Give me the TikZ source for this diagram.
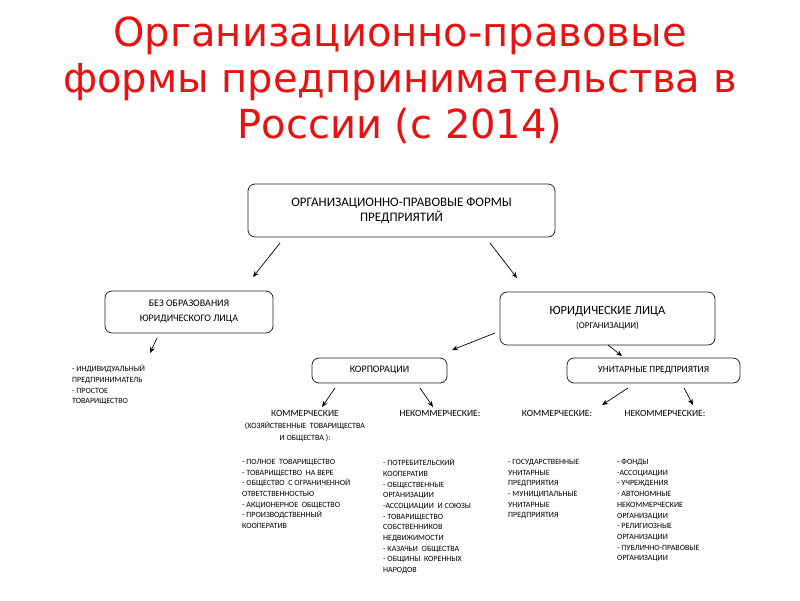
\documentclass[tikz,border=0pt]{standalone}
\usepackage{fontspec}
\setmainfont{Carlito}
\newfontfamily\titlefont{DejaVu Sans}
\usetikzlibrary{arrows.meta}
\definecolor{titlered}{RGB}{232,18,18}
\begin{document}
\begin{tikzpicture}[x=1pt,y=-1pt,
  box/.style={draw=black!85,line width=0.8pt,rounded corners=7pt,inner sep=0pt,align=center},
  arr/.style={-{Stealth[length=6pt,width=5pt]},line width=0.7pt},
  lst/.style={anchor=north west,inner sep=0pt,align=left,font=\fontsize{8}{10.7}\selectfont},
  lab/.style={inner sep=0pt,align=center}]
\useasboundingbox (0,0) rectangle (800,600);
\fill[white] (0,0) rectangle (800,600);
% title
\node[lab,anchor=north,text=titlered,font=\titlefont\fontsize{40}{46}\selectfont] (title) at (400,17)
  {Организационно-правовые\\формы предпринимательства в\\России (с 2014)};
% boxes
\node[box,minimum width=307,minimum height=53,font=\fontsize{13}{15}\selectfont] (top) at (401.5,210.5)
  {ОРГАНИЗАЦИОННО-ПРАВОВЫЕ ФОРМЫ\\ПРЕДПРИЯТИЙ};
\node[box,minimum width=168,minimum height=42,font=\fontsize{10}{15}\selectfont] (bez) at (189,312)
  {БЕЗ ОБРАЗОВАНИЯ\\ЮРИДИЧЕСКОГО ЛИЦА};
\node[box,minimum width=215,minimum height=53] (jur) at (607.5,318.5)
  {{\fontsize{12.5}{15}\selectfont ЮРИДИЧЕСКИЕ ЛИЦА}\\[2pt]{\fontsize{9}{11}\selectfont (ОРГАНИЗАЦИИ)}};
\node[box,minimum width=135,minimum height=25,font=\fontsize{10}{12}\selectfont] (korp) at (379.5,370.5)
  {КОРПОРАЦИИ};
\node[box,minimum width=173,minimum height=25,font=\fontsize{9.5}{12}\selectfont] (unit) at (653.5,370.5)
  {УНИТАРНЫЕ ПРЕДПРИЯТИЯ};
% headings
\node[lab,anchor=north,font=\fontsize{9.5}{12}\selectfont] (kom1) at (305,410)
  {КОММЕРЧЕСКИЕ\\{\fontsize{8}{12}\selectfont (ХОЗЯЙСТВЕННЫЕ\ \ ТОВАРИЩЕСТВА}\\{\fontsize{8}{12}\selectfont И ОБЩЕСТВА ):}};
\node[lab,anchor=north,font=\fontsize{9.5}{12}\selectfont] (nek1) at (440,410) {НЕКОММЕРЧЕСКИЕ:};
\node[lab,anchor=north,font=\fontsize{9.5}{12}\selectfont] (kom2) at (557,410) {КОММЕРЧЕСКИЕ:};
\node[lab,anchor=north,font=\fontsize{9.5}{12}\selectfont] (nek2) at (665,410) {НЕКОММЕРЧЕСКИЕ:};
% lists
\node[lst] (ip) at (72,365) {- ИНДИВИДУАЛЬНЫЙ\\ПРЕДПРИНИМАТЕЛЬ\\- ПРОСТОЕ\\ТОВАРИЩЕСТВО};
\node[lst] (l1) at (242,459) {- ПОЛНОЕ\ \ ТОВАРИЩЕСТВО\\- ТОВАРИЩЕСТВО\ \ НА ВЕРЕ\\- ОБЩЕСТВО\ \ С ОГРАНИЧЕННОЙ\\ОТВЕТСТВЕННОСТЬЮ\\- АКЦИОНЕРНОЕ\ \ ОБЩЕСТВО\\- ПРОИЗВОДСТВЕННЫЙ\\КООПЕРАТИВ};
\node[lst] (l2) at (383,459) {- ПОТРЕБИТЕЛЬСКИЙ\\КООПЕРАТИВ\\- ОБЩЕСТВЕННЫЕ\\ОРГАНИЗАЦИИ\\-АССОЦИАЦИИ\ \ И СОЮЗЫ\\- ТОВАРИЩЕСТВО\\СОБСТВЕННИКОВ\\НЕДВИЖИМОСТИ\\- КАЗАЧЬИ\ \ ОБЩЕСТВА\\- ОБЩИНЫ\ \ КОРЕННЫХ\\НАРОДОВ};
\node[lst] (l3) at (508,459) {- ГОСУДАРСТВЕННЫЕ\\УНИТАРНЫЕ\\ПРЕДПРИЯТИЯ\\- МУНИЦИПАЛЬНЫЕ\\УНИТАРНЫЕ\\ПРЕДПРИЯТИЯ};
\node[lst] (l4) at (617,459) {- ФОНДЫ\\-АССОЦИАЦИИ\\- УЧРЕЖДЕНИЯ\\- АВТОНОМНЫЕ\\НЕКОММЕРЧЕСКИЕ\\ОРГАНИЗАЦИИ\\- РЕЛИГИОЗНЫЕ\\ОРГАНИЗАЦИИ\\- ПУБЛИЧНО-ПРАВОВЫЕ\\ОРГАНИЗАЦИИ};
% arrow end points
\coordinate (a1s) at (280,243); \coordinate (a1e) at (253,277);
\coordinate (a2s) at (490,243); \coordinate (a2e) at (517,278);
\coordinate (a3s) at (157,338); \coordinate (a3e) at (150,353);
\coordinate (a4s) at (495,333); \coordinate (a4e) at (452,350);
\coordinate (a5s) at (608,345); \coordinate (a5e) at (622,356);
\coordinate (a6s) at (335,388); \coordinate (a6e) at (322,407);
\coordinate (a7s) at (420,388); \coordinate (a7e) at (433,407);
\coordinate (a8s) at (628,388); \coordinate (a8e) at (602,405);
\coordinate (a9s) at (684,388); \coordinate (a9e) at (693,405);
\draw[arr] (a1s) -- (a1e);
\draw[arr] (a2s) -- (a2e);
\draw[arr] (a3s) -- (a3e);
\draw[arr] (a4s) -- (a4e);
\draw[arr] (a5s) -- (a5e);
\draw[arr] (a6s) -- (a6e);
\draw[arr] (a7s) -- (a7e);
\draw[arr] (a8s) -- (a8e);
\draw[arr] (a9s) -- (a9e);
\end{tikzpicture}
\end{document}
